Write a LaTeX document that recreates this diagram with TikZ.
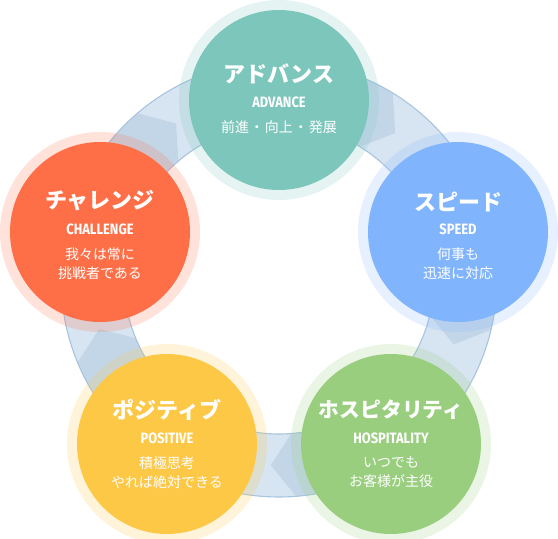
\documentclass[tikz,border=0pt]{standalone}
\usepackage{fontspec}
\usetikzlibrary{calc}
\newfontfamily\jp{Noto Sans CJK JP}
\newfontfamily\cond[FakeStretch=0.86]{Fira Sans}
\definecolor{bandlight}{HTML}{D7E4F1}
\definecolor{banddark}{HTML}{C3D6E8}
\definecolor{bandline}{HTML}{A8C4DF}
\definecolor{cteal}{HTML}{7CC6BC}
\definecolor{cblue}{HTML}{80B4FD}
\definecolor{corange}{HTML}{FE6F48}
\definecolor{cyellow}{HTML}{FDC846}
\definecolor{cgreen}{HTML}{99CE7E}
\tikzset{
  halo/.style={circle, minimum size=200pt, inner sep=0, fill opacity=0.2},
  disc/.style={circle, minimum size=180pt, inner sep=0},
  titletext/.style={text=white, font=\jp\bfseries\fontsize{22}{22}\selectfont, inner sep=0},
  engtext/.style={text=white, font=\cond\bfseries\fontsize{15}{15}\selectfont, inner sep=0},
  subtext/.style={text=white, font=\jp\fontsize{14}{19}\selectfont, align=center, inner sep=0},
}
\begin{document}
\begin{tikzpicture}[x=1pt,y=1pt]
\useasboundingbox (0,0) rectangle (558,539);
\coordinate (c) at (279,260);
% ring band
\fill[bandlight, even odd rule] (c) circle[radius=218] (c) circle[radius=155];
% darker arrow sections (tip angle, source angle)
\foreach \t/\s in {51.5/90, 123.5/165.3, 195.5/235.5, 267.5/304.5, 339.5/374.7}{
  \fill[banddark] ($(c)+(\t:186.5)$) -- ($(c)+(\t+7:218)$)
    arc[start angle=\t+7, end angle=\s, radius=218]
    -- ($(c)+(\s:155)$)
    arc[start angle=\s, end angle=\t+7, radius=155] -- cycle;
}
\draw[bandline, line width=1.1pt] (c) circle[radius=218] (c) circle[radius=155];
% circles
\node[halo, fill=cteal] (advh) at (279,439) {};
\node[disc, fill=cteal] (adv) at (279,439) {};
\node[halo, fill=cblue] (spdh) at (458,307) {};
\node[disc, fill=cblue] (spd) at (458,307) {};
\node[halo, fill=corange] (chah) at (100,307) {};
\node[disc, fill=corange] (cha) at (100,307) {};
\node[halo, fill=cyellow] (posh) at (167,95) {};
\node[disc, fill=cyellow] (pos) at (167,95) {};
\node[halo, fill=cgreen] (hosh) at (391,95) {};
\node[disc, fill=cgreen] (hos) at (391,95) {};
% texts: advance
\node[titletext] (advt) at ([yshift=26]adv.center) {アドバンス};
\node[engtext] (adve) at ([yshift=-2]adv.center) {ADVANCE};
\node[subtext] (advs) at ([yshift=-27.5]adv.center) {前進\hspace{1pt}・\hspace{1pt}向上\hspace{1pt}・\hspace{1pt}発展};
% speed
\node[titletext] (spdt) at ([yshift=30]spd.center) {スピード};
\node[engtext] (spde) at ([yshift=2.7]spd.center) {SPEED};
\node[subtext] (spds) at ([yshift=-31.4]spd.center) {何事も\\迅速に対応};
% challenge
\node[titletext] (chat) at ([yshift=31]cha.center) {チャレンジ};
\node[engtext] (chae) at ([yshift=2.7]cha.center) {CHALLENGE};
\node[subtext] (chas) at ([yshift=-31.4]cha.center) {我々は常に\\挑戦者である};
% positive
\node[titletext] (post) at ([yshift=34]pos.center) {ポジティブ};
\node[engtext] (pose) at ([yshift=6]pos.center) {POSITIVE};
\node[subtext] (poss) at ([yshift=-28.5]pos.center) {積極思考\\やれば絶対できる};
% hospitality
\node[titletext, font=\jp\bfseries\fontsize{20.8}{22}\selectfont] (host) at ([yshift=34]hos.center) {ホスピタリティ};
\node[engtext] (hose) at ([yshift=6]hos.center) {HOSPITALITY};
\node[subtext] (hoss) at ([yshift=-28.5]hos.center) {いつでも\\お客様が主役};
\end{tikzpicture}
\end{document}
